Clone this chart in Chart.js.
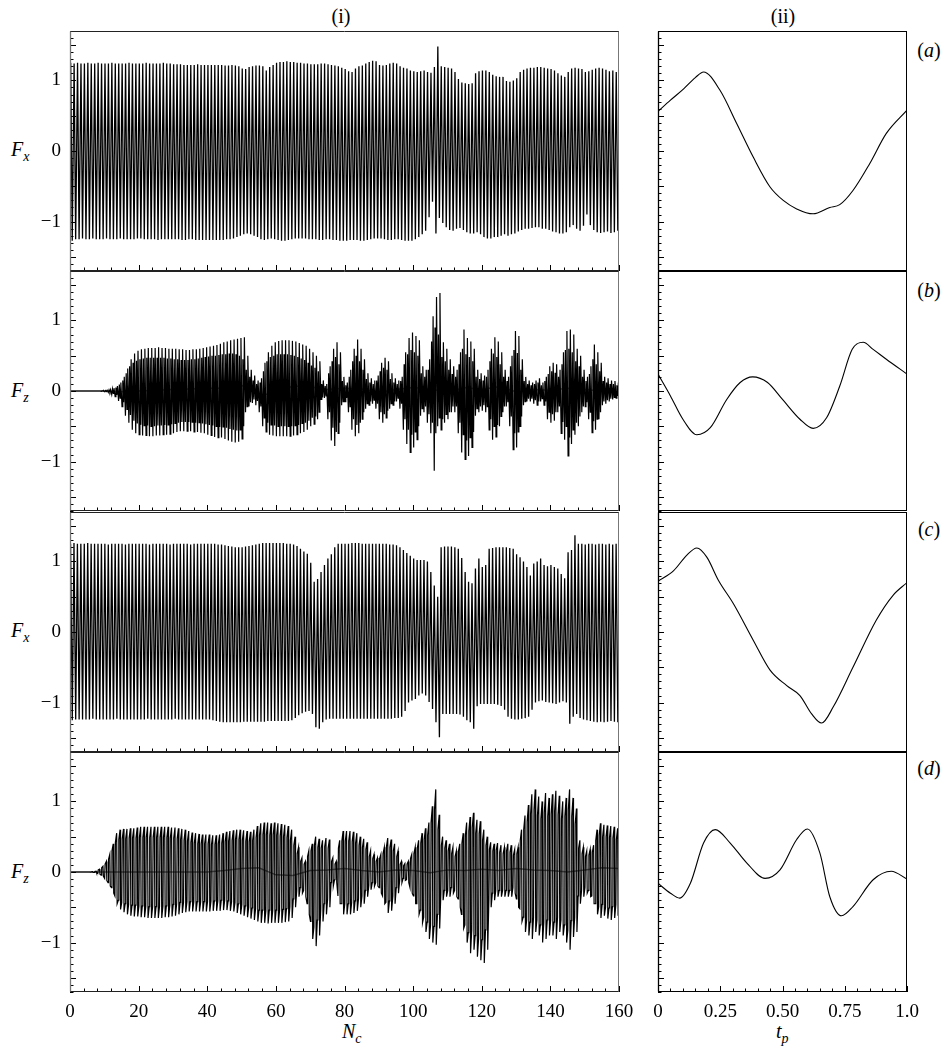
<!DOCTYPE html>
<html>
<head>
<meta charset="utf-8">
<script src="https://cdn.jsdelivr.net/npm/chart.js@4.4.1/dist/chart.umd.min.js"></script>
<style>
  body { margin: 0; background: #fff; width: 944px; height: 1050px; position: relative; overflow: hidden;
         font-family: 'Liberation Serif', 'Times New Roman', serif; color: #000; }
  canvas { position: absolute; }
  .lbl { position: absolute; font-size: 20px; line-height: 1; white-space: nowrap; transform: translate(-50%, -50%); }
  .ax { position: absolute; font-size: 20px; line-height: 1; white-space: nowrap; font-style: italic; }
  .ax span { font-size: 14px; position: relative; top: 5px; }
  i { font-style: italic; }
</style>
</head>
<body>

<div class="lbl" style="left:341px;top:16px">(i)</div>
<div class="lbl" style="left:783px;top:16px">(ii)</div>
<div class="lbl" style="left:929px;top:50px">(<i>a</i>)</div>
<div class="lbl" style="left:929px;top:290px">(<i>b</i>)</div>
<div class="lbl" style="left:929px;top:529px">(<i>c</i>)</div>
<div class="lbl" style="left:929px;top:768px">(<i>d</i>)</div>

<div class="ax" style="left:11px;top:139px">F<span>x</span></div>
<div class="ax" style="left:11px;top:380px">F<span>z</span></div>
<div class="ax" style="left:11px;top:620px">F<span>x</span></div>
<div class="ax" style="left:11px;top:861px">F<span>z</span></div>
<div class="ax" style="left:342px;top:1021px">N<span>c</span></div>
<div class="ax" style="left:776px;top:1021px">t<span>p</span></div>

<canvas id="fxA" width="640" height="248" style="left:0;top:27px"></canvas>
<canvas id="fzB" width="640" height="248" style="left:0;top:267px"></canvas>
<canvas id="fxC" width="640" height="248" style="left:0;top:508px"></canvas>
<canvas id="fzD" width="640" height="280" style="left:0;top:748px"></canvas>
<canvas id="phA" width="290" height="248" style="left:650px;top:27px"></canvas>
<canvas id="phB" width="290" height="248" style="left:650px;top:267px"></canvas>
<canvas id="phC" width="290" height="248" style="left:650px;top:508px"></canvas>
<canvas id="phD" width="290" height="280" style="left:650px;top:748px"></canvas>

<script>
// ---- axis ticks ----
const forceTicks = [-1, 0, 1];
const cycleTicks = [0, 20, 40, 60, 80, 100, 120, 140, 160];
const phaseTicks = [0, 0.25, 0.5, 0.75, 1.0];
const phaseTickLabels = ['0', '0.25', '0.50', '0.75', '1.0'];

// ---- (i) per-cycle extremes over 160 cycles ----
const fxPeakA = [
  1.25,1.24,1.25,1.24,1.24,1.25,1.24,1.24,1.25,1.24,1.24,1.24,1.25,1.24,1.24,1.24,1.24,1.25,1.24,1.24,
  1.24,1.24,1.25,1.24,1.24,1.24,1.24,1.25,1.24,1.24,1.23,1.23,1.23,1.22,1.22,1.22,1.22,1.23,1.22,1.22,
  1.22,1.22,1.22,1.22,1.22,1.21,1.21,1.22,1.21,1.20,1.17,1.16,1.19,1.20,1.21,1.21,1.20,1.14,1.19,1.22,
  1.25,1.26,1.26,1.27,1.26,1.26,1.25,1.25,1.24,1.24,1.23,1.23,1.23,1.24,1.24,1.23,1.22,1.21,1.20,1.18,
  1.16,1.13,1.12,1.17,1.20,1.21,1.24,1.26,1.28,1.27,1.22,1.21,1.22,1.24,1.25,1.24,1.20,1.18,1.17,1.14,
  1.13,1.12,1.13,1.14,1.12,1.11,1.19,1.48,1.20,1.19,1.18,1.17,1.12,1.02,0.97,0.96,0.95,0.96,1.10,1.13,
  1.14,1.14,1.12,1.08,1.06,1.05,1.05,0.99,0.98,1.00,1.03,1.12,1.15,1.17,1.18,1.18,1.19,1.19,1.18,1.17,
  1.16,1.14,1.10,1.07,1.05,1.12,1.17,1.18,1.17,1.16,1.12,1.13,1.15,1.17,1.18,1.17,1.15,1.13,1.14,1.12
];
const fxTroughA = [
  -1.27,-1.25,-1.25,-1.24,-1.25,-1.25,-1.24,-1.25,-1.25,-1.25,-1.24,-1.25,-1.25,-1.25,-1.24,-1.25,-1.25,-1.25,-1.25,-1.24,
  -1.24,-1.25,-1.25,-1.25,-1.25,-1.26,-1.25,-1.25,-1.25,-1.25,-1.25,-1.25,-1.26,-1.26,-1.25,-1.25,-1.26,-1.26,-1.26,-1.26,
  -1.26,-1.26,-1.26,-1.26,-1.26,-1.25,-1.25,-1.24,-1.22,-1.20,-1.18,-1.17,-1.18,-1.20,-1.22,-1.25,-1.26,-1.25,-1.24,-1.25,
  -1.26,-1.27,-1.27,-1.26,-1.25,-1.24,-1.24,-1.24,-1.24,-1.25,-1.25,-1.25,-1.26,-1.26,-1.25,-1.25,-1.26,-1.26,-1.27,-1.27,
  -1.27,-1.26,-1.26,-1.26,-1.27,-1.27,-1.26,-1.25,-1.24,-1.24,-1.24,-1.25,-1.26,-1.26,-1.25,-1.25,-1.26,-1.27,-1.27,-1.27,
  -1.25,-1.22,-1.18,-1.13,-0.94,-0.72,-1.17,-0.95,-1.02,-1.08,-1.12,-1.13,-1.10,-1.09,-1.12,-1.15,-1.17,-1.17,-1.15,-1.18,
  -1.22,-1.24,-1.24,-1.22,-1.22,-1.20,-1.18,-1.20,-1.18,-1.17,-1.14,-1.12,-1.10,-1.10,-1.09,-1.08,-1.08,-1.10,-1.10,-1.12,
  -1.14,-1.15,-1.17,-1.17,-1.15,-1.08,-1.05,-1.10,-1.13,-1.06,-0.90,-1.05,-1.12,-1.15,-1.16,-1.15,-1.14,-1.16,-1.15,-1.13
];
// Fz: main peak/trough and the smaller inner pair of each cycle
const fzPeakB = [
  0,0,0,0,0,0,0,0,0,0.005,0.01,0.02,0.04,0.07,0.12,0.20,0.32,0.45,0.53,0.57,
  0.59,0.60,0.61,0.61,0.61,0.62,0.61,0.61,0.60,0.60,0.60,0.59,0.59,0.58,0.58,0.59,0.59,0.60,0.61,0.62,
  0.63,0.64,0.65,0.67,0.69,0.70,0.72,0.73,0.74,0.75,0.76,0.50,0.30,0.22,0.15,0.18,0.40,0.55,0.64,0.69,
  0.71,0.72,0.72,0.72,0.71,0.70,0.68,0.66,0.64,0.60,0.55,0.50,0.42,0.15,0.10,0.35,0.60,0.69,0.55,0.20,
  0.12,0.30,0.60,0.73,0.60,0.45,0.25,0.18,0.15,0.22,0.40,0.47,0.42,0.25,0.18,0.15,0.20,0.55,0.75,0.83,
  0.78,0.72,0.35,0.30,0.45,1.06,1.33,1.39,0.69,0.60,0.45,0.35,0.30,0.55,0.87,0.75,0.70,0.60,0.30,0.25,
  0.22,0.30,0.60,0.76,0.70,0.55,0.30,0.20,0.50,0.85,0.78,0.45,0.20,0.15,0.12,0.15,0.18,0.12,0.20,0.35,
  0.40,0.38,0.30,0.55,0.85,0.87,0.80,0.60,0.50,0.30,0.20,0.35,0.66,0.55,0.40,0.20,0.18,0.15,0.14,0.12
];
const fzTroughB = [
  0,0,0,0,0,0,0,0,0,-0.005,-0.01,-0.02,-0.05,-0.08,-0.14,-0.22,-0.35,-0.45,-0.55,-0.60,
  -0.62,-0.63,-0.63,-0.64,-0.64,-0.63,-0.63,-0.62,-0.62,-0.61,-0.60,-0.58,-0.57,-0.57,-0.57,-0.57,-0.58,-0.58,-0.59,-0.60,
  -0.62,-0.63,-0.65,-0.66,-0.66,-0.68,-0.70,-0.72,-0.73,-0.72,-0.68,-0.30,-0.22,-0.17,-0.20,-0.30,-0.50,-0.58,-0.62,-0.63,
  -0.64,-0.64,-0.64,-0.64,-0.64,-0.63,-0.62,-0.60,-0.58,-0.55,-0.50,-0.47,-0.40,-0.12,-0.10,-0.40,-0.70,-0.78,-0.60,-0.20,
  -0.15,-0.30,-0.55,-0.64,-0.60,-0.40,-0.25,-0.20,-0.18,-0.25,-0.40,-0.45,-0.38,-0.25,-0.20,-0.15,-0.25,-0.55,-0.75,-0.87,
  -0.80,-0.69,-0.35,-0.30,-0.45,-0.60,-1.13,-0.50,-0.55,-0.45,-0.40,-0.30,-0.30,-0.60,-0.87,-0.97,-0.92,-0.80,-0.35,-0.30,
  -0.28,-0.30,-0.55,-0.69,-0.65,-0.50,-0.30,-0.22,-0.50,-0.83,-0.80,-0.50,-0.20,-0.15,-0.15,-0.18,-0.20,-0.15,-0.20,-0.40,
  -0.45,-0.42,-0.30,-0.60,-0.69,-0.92,-0.75,-0.62,-0.50,-0.30,-0.22,-0.40,-0.59,-0.55,-0.40,-0.20,-0.18,-0.15,-0.12,-0.10
];
const fzInHiB = [
  0,0,0,0,0,0,0,0,0,0.003,0.007,0.015,0.03,0.05,0.09,0.15,0.25,0.35,0.40,0.43,
  0.45,0.46,0.47,0.47,0.47,0.47,0.47,0.47,0.46,0.46,0.45,0.45,0.44,0.44,0.44,0.45,0.45,0.46,0.47,0.48,
  0.49,0.50,0.50,0.51,0.52,0.52,0.53,0.53,0.52,0.50,0.45,0.30,0.20,0.15,0.10,0.12,0.28,0.42,0.48,0.50,
  0.52,0.52,0.52,0.52,0.51,0.50,0.48,0.46,0.44,0.40,0.36,0.33,0.28,0.10,0.07,0.25,0.42,0.48,0.38,0.14,
  0.08,0.20,0.42,0.50,0.42,0.30,0.17,0.12,0.10,0.15,0.28,0.33,0.30,0.17,0.12,0.10,0.14,0.38,0.52,0.58,
  0.55,0.50,0.25,0.20,0.30,0.70,0.90,0.80,0.48,0.42,0.30,0.24,0.20,0.38,0.60,0.52,0.48,0.42,0.20,0.17,
  0.15,0.20,0.42,0.53,0.48,0.38,0.20,0.14,0.35,0.58,0.54,0.30,0.14,0.10,0.08,0.10,0.12,0.08,0.14,0.24,
  0.28,0.26,0.20,0.38,0.58,0.60,0.55,0.42,0.35,0.20,0.14,0.24,0.45,0.38,0.28,0.14,0.12,0.10,0.10,0.08
];
const fzInLoB = [
  0,0,0,0,0,0,0,0,0,-0.003,-0.007,-0.015,-0.035,-0.055,-0.10,-0.16,-0.26,-0.34,-0.42,-0.46,
  -0.48,-0.49,-0.49,-0.50,-0.50,-0.49,-0.49,-0.48,-0.48,-0.47,-0.46,-0.45,-0.44,-0.44,-0.44,-0.44,-0.45,-0.45,-0.46,-0.47,
  -0.48,-0.49,-0.50,-0.51,-0.51,-0.52,-0.54,-0.55,-0.56,-0.55,-0.50,-0.22,-0.16,-0.12,-0.14,-0.22,-0.38,-0.45,-0.48,-0.49,
  -0.50,-0.50,-0.50,-0.50,-0.50,-0.49,-0.48,-0.46,-0.45,-0.42,-0.38,-0.36,-0.30,-0.09,-0.07,-0.30,-0.52,-0.58,-0.45,-0.15,
  -0.10,-0.22,-0.40,-0.48,-0.45,-0.30,-0.18,-0.15,-0.13,-0.18,-0.30,-0.33,-0.28,-0.18,-0.15,-0.10,-0.18,-0.40,-0.55,-0.62,
  -0.58,-0.50,-0.25,-0.22,-0.33,-0.45,-0.60,-0.38,-0.40,-0.33,-0.30,-0.22,-0.22,-0.45,-0.62,-0.70,-0.66,-0.58,-0.25,-0.22,
  -0.20,-0.22,-0.40,-0.50,-0.48,-0.36,-0.22,-0.16,-0.36,-0.60,-0.58,-0.36,-0.15,-0.11,-0.11,-0.13,-0.15,-0.11,-0.15,-0.30,
  -0.33,-0.30,-0.22,-0.44,-0.50,-0.66,-0.55,-0.45,-0.36,-0.22,-0.16,-0.30,-0.43,-0.40,-0.30,-0.15,-0.13,-0.11,-0.09,-0.07
];
const fxPeakC = [
  1.25,1.26,1.25,1.25,1.25,1.26,1.25,1.25,1.25,1.25,1.25,1.24,1.25,1.25,1.25,1.25,1.24,1.25,1.25,1.25,
  1.25,1.25,1.25,1.24,1.25,1.25,1.25,1.25,1.25,1.24,1.25,1.25,1.25,1.25,1.25,1.24,1.25,1.25,1.25,1.25,
  1.25,1.25,1.25,1.24,1.24,1.23,1.22,1.21,1.20,1.20,1.20,1.21,1.22,1.23,1.24,1.25,1.26,1.26,1.26,1.26,
  1.26,1.26,1.26,1.25,1.25,1.24,1.22,1.18,1.14,1.11,0.98,0.71,0.75,0.85,0.95,1.04,1.10,1.20,1.25,1.25,
  1.25,1.25,1.26,1.26,1.26,1.25,1.25,1.25,1.25,1.25,1.25,1.25,1.25,1.24,1.24,1.23,1.20,1.16,1.12,1.08,
  1.04,1.02,1.02,1.02,1.00,0.85,0.66,0.50,1.20,1.21,1.21,1.21,1.20,1.18,1.05,0.85,0.71,0.69,0.90,1.04,
  0.92,0.95,1.18,1.19,1.20,1.20,1.20,1.20,1.19,1.18,1.10,1.06,1.00,0.92,0.80,0.97,1.00,1.04,0.95,0.93,
  0.95,0.92,0.90,0.82,0.76,1.13,1.16,1.37,1.25,1.25,1.24,1.25,1.25,1.24,1.25,1.25,1.24,1.25,1.24,1.25
];
const fxTroughC = [
  -1.25,-1.24,-1.24,-1.24,-1.24,-1.24,-1.23,-1.24,-1.24,-1.24,-1.24,-1.24,-1.24,-1.23,-1.24,-1.24,-1.24,-1.24,-1.24,-1.24,
  -1.24,-1.24,-1.23,-1.24,-1.24,-1.24,-1.24,-1.24,-1.24,-1.24,-1.23,-1.24,-1.24,-1.24,-1.24,-1.24,-1.24,-1.24,-1.24,-1.24,
  -1.24,-1.25,-1.26,-1.27,-1.28,-1.28,-1.28,-1.28,-1.28,-1.28,-1.27,-1.27,-1.27,-1.27,-1.27,-1.27,-1.27,-1.26,-1.26,-1.26,
  -1.26,-1.26,-1.26,-1.26,-1.25,-1.22,-1.18,-1.15,-1.13,-1.12,-1.16,-1.35,-1.37,-1.28,-1.24,-1.23,-1.23,-1.23,-1.23,-1.23,
  -1.23,-1.23,-1.23,-1.23,-1.23,-1.23,-1.23,-1.23,-1.23,-1.23,-1.23,-1.23,-1.23,-1.23,-1.22,-1.22,-1.20,-1.12,-1.00,-0.97,
  -0.95,-0.90,-0.87,-0.90,-0.99,-1.09,-1.28,-1.49,-1.16,-1.16,-1.16,-1.16,-1.16,-1.17,-1.20,-1.25,-1.28,-1.37,-1.05,-1.02,
  -1.02,-1.02,-1.02,-1.02,-1.03,-1.05,-1.10,-1.20,-1.23,-1.24,-1.24,-1.23,-1.22,-1.20,-1.10,-1.00,-0.98,-0.97,-0.99,-1.00,
  -1.01,-1.02,-1.00,-0.98,-1.00,-1.30,-1.20,-1.16,-1.22,-1.24,-1.25,-1.26,-1.27,-1.28,-1.27,-1.28,-1.27,-1.26,-1.27,-1.28
];
const fzPeakD = [
  0,0,0,0,0,0,0.005,0.01,0.04,0.08,0.15,0.25,0.40,0.55,0.60,0.61,0.61,0.62,0.62,0.63,
  0.64,0.64,0.64,0.64,0.64,0.64,0.64,0.64,0.64,0.63,0.63,0.62,0.61,0.60,0.58,0.56,0.55,0.54,0.53,0.53,
  0.53,0.52,0.52,0.53,0.55,0.57,0.58,0.59,0.60,0.60,0.59,0.58,0.57,0.60,0.65,0.69,0.70,0.70,0.69,0.70,
  0.69,0.68,0.67,0.65,0.60,0.50,0.35,0.20,0.15,0.30,0.40,0.50,0.47,0.45,0.48,0.46,0.20,0.15,0.45,0.58,
  0.58,0.58,0.57,0.55,0.50,0.47,0.42,0.30,0.25,0.20,0.25,0.35,0.48,0.46,0.40,0.30,0.15,0.12,0.15,0.25,
  0.35,0.45,0.55,0.62,0.70,0.93,1.17,0.81,0.50,0.45,0.40,0.35,0.30,0.40,0.55,0.70,0.78,0.84,0.74,0.72,
  0.60,0.50,0.42,0.40,0.41,0.38,0.35,0.40,0.38,0.32,0.35,0.60,0.80,0.95,1.10,1.17,1.07,1.00,1.12,1.05,
  1.10,1.15,1.08,1.00,1.05,1.17,1.05,0.90,0.45,0.35,0.30,0.32,0.38,0.60,0.69,0.67,0.66,0.65,0.64,0.62
];
const fzTroughD = [
  0,0,0,0,0,0,-0.005,-0.01,-0.03,-0.06,-0.12,-0.20,-0.30,-0.45,-0.53,-0.57,-0.60,-0.62,-0.63,-0.63,
  -0.64,-0.64,-0.65,-0.65,-0.65,-0.65,-0.65,-0.64,-0.64,-0.63,-0.62,-0.60,-0.58,-0.57,-0.56,-0.56,-0.56,-0.56,-0.56,-0.56,
  -0.56,-0.55,-0.55,-0.55,-0.54,-0.54,-0.55,-0.56,-0.58,-0.60,-0.62,-0.64,-0.66,-0.68,-0.70,-0.72,-0.72,-0.73,-0.72,-0.72,
  -0.72,-0.72,-0.71,-0.70,-0.65,-0.50,-0.35,-0.30,-0.35,-0.60,-0.95,-1.05,-0.90,-0.70,-0.60,-0.50,-0.20,-0.15,-0.45,-0.60,
  -0.60,-0.60,-0.58,-0.55,-0.50,-0.45,-0.35,-0.25,-0.20,-0.20,-0.30,-0.45,-0.58,-0.55,-0.45,-0.30,-0.15,-0.12,-0.15,-0.30,
  -0.45,-0.60,-0.72,-0.85,-0.95,-1.00,-1.03,-0.80,-0.40,-0.35,-0.35,-0.30,-0.35,-0.50,-0.80,-1.00,-1.15,-1.10,-1.20,-1.25,
  -1.29,-1.10,-0.50,-0.40,-0.35,-0.35,-0.35,-0.35,-0.35,-0.30,-0.50,-0.70,-0.85,-0.90,-0.95,-0.85,-0.90,-1.00,-0.95,-0.90,
  -0.90,-0.95,-0.85,-0.90,-1.00,-1.10,-0.92,-0.85,-0.45,-0.35,-0.30,-0.35,-0.45,-0.60,-0.65,-0.62,-0.66,-0.68,-0.65,-0.62
];
const fzInHiD = [
  0,0,0,0,0,0,0.003,0.007,0.03,0.06,0.11,0.18,0.30,0.42,0.46,0.47,0.47,0.48,0.48,0.48,
  0.49,0.49,0.49,0.49,0.49,0.49,0.49,0.49,0.49,0.48,0.48,0.47,0.46,0.45,0.44,0.42,0.41,0.40,0.40,0.40,
  0.40,0.39,0.39,0.40,0.41,0.43,0.44,0.45,0.46,0.46,0.45,0.44,0.43,0.45,0.49,0.52,0.53,0.53,0.52,0.53,
  0.52,0.51,0.50,0.49,0.45,0.38,0.26,0.15,0.11,0.22,0.30,0.38,0.35,0.34,0.36,0.34,0.15,0.11,0.34,0.44,
  0.44,0.44,0.43,0.41,0.38,0.35,0.32,0.22,0.19,0.15,0.19,0.26,0.36,0.35,0.30,0.22,0.11,0.09,0.11,0.19,
  0.26,0.34,0.41,0.46,0.52,0.70,0.88,0.60,0.38,0.34,0.30,0.26,0.22,0.30,0.41,0.52,0.58,0.63,0.55,0.54,
  0.45,0.38,0.32,0.30,0.31,0.28,0.26,0.30,0.28,0.24,0.26,0.45,0.60,0.71,0.82,0.88,0.80,0.75,0.84,0.79,
  0.82,0.86,0.81,0.75,0.79,0.88,0.79,0.68,0.34,0.26,0.22,0.24,0.28,0.45,0.52,0.50,0.50,0.49,0.48,0.46
];
const fzInLoD = [
  0,0,0,0,0,0,-0.003,-0.007,-0.02,-0.045,-0.09,-0.15,-0.22,-0.34,-0.40,-0.43,-0.45,-0.46,-0.47,-0.47,
  -0.48,-0.48,-0.49,-0.49,-0.49,-0.49,-0.49,-0.48,-0.48,-0.47,-0.46,-0.45,-0.43,-0.43,-0.42,-0.42,-0.42,-0.42,-0.42,-0.42,
  -0.42,-0.41,-0.41,-0.41,-0.40,-0.40,-0.41,-0.42,-0.43,-0.45,-0.46,-0.48,-0.50,-0.51,-0.52,-0.54,-0.54,-0.55,-0.54,-0.54,
  -0.54,-0.54,-0.53,-0.52,-0.49,-0.38,-0.26,-0.22,-0.26,-0.45,-0.70,-0.78,-0.68,-0.52,-0.45,-0.38,-0.15,-0.11,-0.34,-0.45,
  -0.45,-0.45,-0.43,-0.41,-0.38,-0.34,-0.26,-0.19,-0.15,-0.15,-0.22,-0.34,-0.43,-0.41,-0.34,-0.22,-0.11,-0.09,-0.11,-0.22,
  -0.34,-0.45,-0.54,-0.64,-0.71,-0.75,-0.77,-0.60,-0.30,-0.26,-0.26,-0.22,-0.26,-0.38,-0.60,-0.75,-0.86,-0.82,-0.90,-0.94,
  -0.96,-0.82,-0.38,-0.30,-0.26,-0.26,-0.26,-0.26,-0.26,-0.22,-0.38,-0.52,-0.64,-0.68,-0.71,-0.64,-0.68,-0.75,-0.71,-0.68,
  -0.68,-0.71,-0.64,-0.68,-0.75,-0.82,-0.69,-0.64,-0.34,-0.26,-0.22,-0.26,-0.34,-0.45,-0.49,-0.46,-0.50,-0.51,-0.49,-0.46
];
// slowly varying mean of Fz, every 5 cycles
const meanCycles = [0,5,10,15,20,25,30,35,40,45,50,55,60,65,70,75,80,85,90,95,100,105,110,115,120,125,130,135,140,145,150,155,160];
const fzMeanB = [0,0,0,-0.01,0,0.01,0.02,0.03,0.04,0.04,0.08,-0.06,-0.03,0.07,0.06,0.02,0.04,0.03,-0.02,0.02,0.05,0.03,-0.02,0.05,0.02,0.06,-0.01,0.02,0.01,0.04,0.02,0,-0.02];
const fzMeanD = [0,0,0,0,0,0,0,0,0,0.02,0.05,0.06,-0.04,-0.05,0.02,0.03,0.05,0.02,0,0.03,0.02,-0.01,0.03,0.02,0.04,0.02,0.05,0.03,0.02,0,0.03,0.06,0.05];

// ---- (ii) phase-averaged cycle ----
const tpA = [0,0.05,0.103,0.15,0.183,0.249,0.316,0.383,0.45,0.503,0.557,0.623,0.69,0.73,0.783,0.85,0.917,1.0];
const fxPhaseA = [0.56,0.72,0.88,1.04,1.12,0.86,0.39,-0.09,-0.51,-0.70,-0.82,-0.89,-0.80,-0.76,-0.56,-0.18,0.25,0.58];
const tpB = [0,0.05,0.10,0.156,0.21,0.276,0.33,0.38,0.44,0.50,0.57,0.623,0.677,0.73,0.78,0.824,0.864,0.917,1.0];
const fzPhaseB = [0.24,-0.07,-0.40,-0.62,-0.52,-0.12,0.12,0.20,0.12,-0.12,-0.40,-0.53,-0.38,0.07,0.59,0.69,0.59,0.45,0.24];
const tpC = [0,0.063,0.116,0.156,0.196,0.243,0.303,0.383,0.45,0.517,0.57,0.617,0.657,0.704,0.783,0.877,0.944,1.0];
const fxPhaseC = [0.72,0.87,1.09,1.19,1.06,0.73,0.40,-0.12,-0.54,-0.76,-0.90,-1.16,-1.29,-1.06,-0.50,0.17,0.52,0.70];
const tpD = [0,0.05,0.087,0.13,0.183,0.23,0.29,0.356,0.43,0.49,0.557,0.60,0.65,0.69,0.737,0.783,0.864,0.937,1.0];
const fzPhaseD = [-0.16,-0.30,-0.37,-0.16,0.41,0.60,0.41,0.13,-0.09,0.03,0.46,0.61,0.27,-0.35,-0.62,-0.49,-0.11,0.01,-0.10];

const FONT = { family: "'Liberation Serif', 'Times New Roman', serif", size: 19 };

// Polyline through each cycle's extremes; parts = [[values, phaseWithinCycle], ...]
function cycleTrace(parts) {
  const sorted = parts.slice().sort((a, b) => a[1] - b[1]);
  const pts = [];
  for (let n = 0; n < sorted[0][0].length; n++) {
    for (const [vals, ph] of sorted) pts.push({ x: n + ph, y: vals[n] });
  }
  return pts;
}
const zip = (xs, ys) => xs.map((x, i) => ({ x, y: ys[i] }));
const minus = v => (v < 0 ? '\u2212' + Math.abs(v) : String(v));

// Box plus inward tick marks, positioned through the chart's own scales.
const frame = {
  id: 'frame',
  afterDatasetsDraw(chart, args, o) {
    const { ctx, chartArea: a, scales: { x, y } } = chart;
    ctx.save();
    ctx.lineWidth = 1;
    ctx.strokeStyle = '#000';
    const marks = (scale, step, major, cb) => {
      const k0 = Math.ceil(scale.min / step - 1e-6), k1 = Math.floor(scale.max / step + 1e-6);
      for (let k = k0; k <= k1; k++) {
        const v = k * step;
        const isMajor = Math.abs(v / major - Math.round(v / major)) < 1e-6;
        cb(Math.round(scale.getPixelForValue(v)) + 0.5, isMajor ? 6 : 3.5);
      }
    };
    ctx.beginPath();
    marks(y, o.yMinor, o.yMajor, (py, len) => { ctx.moveTo(a.left, py); ctx.lineTo(a.left + len, py); });
    if (o.xTicks) marks(x, o.xMinor, o.xMajor, (px, len) => { ctx.moveTo(px, a.bottom); ctx.lineTo(px, a.bottom - len); });
    ctx.stroke();
    const L = Math.round(a.left) + 0.5, R = Math.round(a.right) - 0.5, T = Math.round(a.top) + 0.5, B = Math.round(a.bottom) - 0.5;
    const side = (x1, y1, x2, y2, c, w) => { ctx.beginPath(); ctx.strokeStyle = c; ctx.lineWidth = w; ctx.moveTo(x1, y1); ctx.lineTo(x2, y2); ctx.stroke(); };
    side(L - 0.5, T, R + 0.5, T, o.hColor, 1);
    side(L - 0.5, B, R + 0.5, B, o.hColor, 1);
    side(L, T, L, B, o.vColor, 1.3);
    side(R, T, R, B, o.vColor, 1);
    ctx.restore();
  }
};

// x-axis labels may hang past the plot edge; layout padding already leaves room for them
const noSidePadding = s => { s.paddingLeft = 0; s.paddingRight = 0; };

function cyclePanel(id, traces, last) {
  const datasets = traces.map(t => ({
    data: t.data, borderColor: t.color, borderWidth: t.width,
    pointRadius: 0, tension: 0, fill: false
  }));
  new Chart(document.getElementById(id), {
    type: 'line',
    data: { datasets },
    options: {
      responsive: false, animation: false, events: [],
      layout: { padding: { top: 4, bottom: last ? 0 : 4, left: 0, right: 21 } },
      plugins: {
        legend: { display: false }, tooltip: { enabled: false },
        frame: { yMinor: 0.1, yMajor: 0.5, xMinor: 4, xMajor: 20, xTicks: true, hColor: '#222', vColor: '#777' }
      },
      scales: {
        x: {
          type: 'linear', min: 0, max: 160, display: last,
          grid: { display: false, drawTicks: false }, border: { display: false },
          ticks: { font: FONT, color: '#000', padding: 9, maxRotation: 0, autoSkip: false },
          afterBuildTicks: s => { s.ticks = cycleTicks.map(v => ({ value: v })); },
          afterFit: s => { s.height = last ? 36 : 0; noSidePadding(s); }
        },
        y: {
          type: 'linear', min: -1.7, max: 1.7,
          grid: { display: false, drawTicks: false }, border: { display: false },
          ticks: { font: FONT, color: '#000', padding: 9, callback: v => minus(v) },
          afterBuildTicks: s => { s.ticks = forceTicks.map(v => ({ value: v })); },
          afterFit: s => { s.width = 70; s.paddingTop = 0; s.paddingBottom = 0; }
        }
      }
    },
    plugins: [frame]
  });
}

function phasePanel(id, pts, last) {
  new Chart(document.getElementById(id), {
    type: 'line',
    data: { datasets: [{ data: pts, borderColor: '#000', borderWidth: 1.1, pointRadius: 0, cubicInterpolationMode: 'monotone', fill: false }] },
    options: {
      responsive: false, animation: false, events: [],
      layout: { padding: { top: 4, bottom: last ? 0 : 4, left: 8, right: 33 } },
      plugins: {
        legend: { display: false }, tooltip: { enabled: false },
        frame: { yMinor: 0.1, yMajor: 0.5, xMinor: 0.05, xMajor: 0.25, xTicks: last, hColor: '#000', vColor: '#000' }
      },
      scales: {
        x: {
          type: 'linear', min: 0, max: 1, display: last,
          grid: { display: false, drawTicks: false }, border: { display: false },
          ticks: { font: FONT, color: '#000', padding: 9, maxRotation: 0, autoSkip: false,
                   callback: (v, i) => phaseTickLabels[i] },
          afterBuildTicks: s => { s.ticks = phaseTicks.map(v => ({ value: v })); },
          afterFit: s => { s.height = last ? 36 : 0; noSidePadding(s); }
        },
        y: { type: 'linear', min: -1.7, max: 1.7, display: false }
      }
    },
    plugins: [frame]
  });
}

cyclePanel('fxA', [{ data: cycleTrace([[fxPeakA, 0.2], [fxTroughA, 0.65]]), color: '#000', width: 1.3 }], false);
cyclePanel('fzB', [
  { data: cycleTrace([[fzTroughB, 0.16], [fzInHiB, 0.38], [fzInLoB, 0.62], [fzPeakB, 0.82]]), color: '#000', width: 1.2 },
  { data: zip(meanCycles, fzMeanB), color: '#777', width: 1.5 }
], false);
cyclePanel('fxC', [{ data: cycleTrace([[fxPeakC, 0.16], [fxTroughC, 0.66]]), color: '#000', width: 1.3 }], false);
cyclePanel('fzD', [
  { data: cycleTrace([[fzInLoD, 0.087], [fzInHiD, 0.23], [fzPeakD, 0.6], [fzTroughD, 0.737]]), color: '#000', width: 1.2 },
  { data: zip(meanCycles, fzMeanD), color: '#777', width: 1.5 }
], true);

phasePanel('phA', zip(tpA, fxPhaseA), false);
phasePanel('phB', zip(tpB, fzPhaseB), false);
phasePanel('phC', zip(tpC, fxPhaseC), false);
phasePanel('phD', zip(tpD, fzPhaseD), true);
</script>
</body>
</html>
